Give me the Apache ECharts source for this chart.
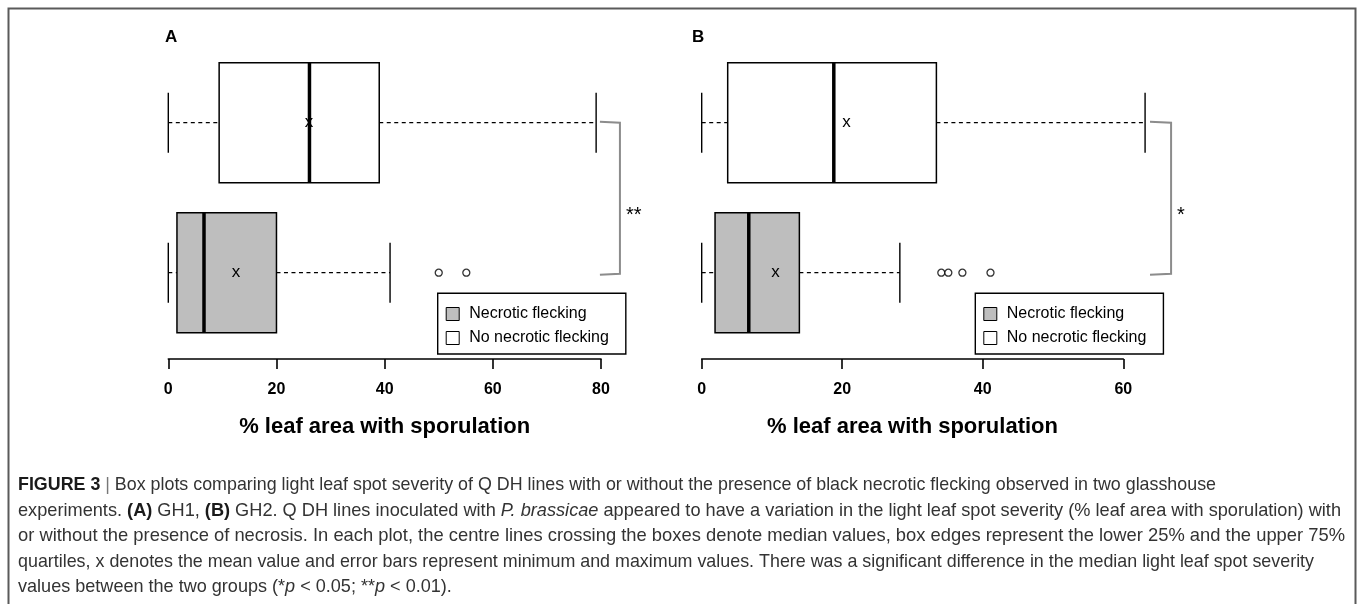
<!DOCTYPE html>
<html><head><meta charset="utf-8">
<script src="https://cdn.jsdelivr.net/npm/echarts@6.0.0/dist/echarts.min.js"></script>
<style>html,body{margin:0;padding:0;background:#fff}#c{width:1357px;height:604px}</style>
</head><body><div id="c"></div>
<script>
// ---- data ----
const groups = ['Necrotic flecking', 'No necrotic flecking'];
// [min, Q1, median, Q3, max, mean]
const gh1Necrotic = [0, 1.6, 6.6, 20.0, 41.0, 12.5];
const gh1None     = [0, 9.4, 26.1, 39.0, 79.1, 26.0];
const gh1Outliers = [50.0, 55.1];
const gh2Necrotic = [0, 1.9, 6.7, 13.9, 28.2, 10.5];
const gh2None     = [0, 3.7, 18.8, 33.4, 63.1, 20.6];
const gh2Outliers = [34.1, 35.1, 37.1, 41.1];
const ticksA = [0, 20, 40, 60, 80];
const ticksB = [0, 20, 40, 60];
const panelLabels = ['A', 'B'];
const signif = ['**', '*'];
const bracketA = [79.8, 83.5];
const bracketB = [63.8, 66.8];
const axisTitle = '% leaf area with sporulation';
const captionLines = [
  [['b','FIGURE 3'],['g',' | '],['n','Box plots comparing light leaf spot severity of Q DH lines with or without the presence of black necrotic flecking observed in two glasshouse']],
  [['n','experiments. '],['b','(A)'],['n',' GH1, '],['b','(B)'],['n',' GH2. Q DH lines inoculated with '],['i','P. brassicae'],['n',' appeared to have a variation in the light leaf spot severity (% leaf area with sporulation) with']],
  [['n','or without the presence of necrosis. In each plot, the centre lines crossing the boxes denote median values, box edges represent the lower 25% and the upper 75%']],
  [['n','quartiles, x denotes the mean value and error bars represent minimum and maximum values. There was a significant difference in the median light leaf spot severity']],
  [['n','values between the two groups (*'],['i','p'],['n',' < 0.05; **'],['i','p'],['n',' < 0.01).']]
];

const FF = '"Liberation Sans", Arial, Helvetica, sans-serif';
const chart = echarts.init(document.getElementById('c'), null, {renderer: 'canvas'});

function boxRender(fill) {
  return function (params, api) {
    const cat = api.value(0);
    const v = [1, 2, 3, 4, 5, 6].map(i => api.value(i));
    const c = x => api.coord([x, cat]);
    const band = api.size([0, 1])[1];
    const h = band * 0.8;
    const pMin = c(v[0]), pQ1 = c(v[1]), pMed = c(v[2]), pQ3 = c(v[3]), pMax = c(v[4]), pMean = c(v[5]);
    const y = pMed[1];
    const dash = {stroke: '#000', lineWidth: 1.3, lineDash: [4, 3.5]};
    const solid = {stroke: '#000', lineWidth: 1.4};
    return {type: 'group', children: [
      {type: 'line', shape: {x1: pMin[0], y1: y, x2: pQ1[0], y2: y}, style: dash},
      {type: 'line', shape: {x1: pQ3[0], y1: y, x2: pMax[0], y2: y}, style: dash},
      {type: 'line', shape: {x1: pMin[0], y1: y - h / 4, x2: pMin[0], y2: y + h / 4}, style: solid},
      {type: 'line', shape: {x1: pMax[0], y1: y - h / 4, x2: pMax[0], y2: y + h / 4}, style: solid},
      {type: 'rect', shape: {x: pQ1[0], y: y - h / 2, width: pQ3[0] - pQ1[0], height: h}, style: {fill: fill, stroke: '#000', lineWidth: 1.5}},
      {type: 'line', shape: {x1: pMed[0], y1: y - h / 2, x2: pMed[0], y2: y + h / 2}, style: {stroke: '#000', lineWidth: 3.5}},
      {type: 'text', x: pMean[0], y: y, style: {text: 'x', fill: '#000', font: '17px ' + FF, align: 'center', verticalAlign: 'middle'}}
    ]};
  };
}

function bracketRender(label) {
  return function (params, api) {
    const x1 = api.value(0), x2 = api.value(1);
    const t = api.coord([x1, 1]), b = api.coord([x1, 0]), r = api.coord([x2, 1]);
    const mid = (t[1] + b[1]) / 2;
    return {type: 'group', children: [
      {type: 'polyline', shape: {points: [[t[0], t[1] - 1], [r[0], t[1]], [r[0], b[1] + 1], [t[0], b[1] + 2]]},
       style: {stroke: '#8c8c8c', lineWidth: 2, fill: null}},
      {type: 'text', x: r[0] + 6, y: mid + 18, style: {text: label, fill: '#000', font: '20px ' + FF, align: 'left', verticalAlign: 'middle'}}
    ]};
  };
}

function boxSeries(name, vals, fill, idx) {
  return {
    type: 'custom', name: name, xAxisIndex: idx, yAxisIndex: idx,
    renderItem: boxRender(fill), clip: false,
    itemStyle: {color: fill, borderColor: '#000', borderWidth: 1},
    encode: {x: [1, 2, 3, 4, 5, 6], y: 0},
    data: [[groups.indexOf(name)].concat(vals)], z: 2
  };
}

function xAxisDef(idx, max, ticks) {
  return {
    gridIndex: idx, type: 'value', min: 0, max: max, interval: 20, offset: 11.3,
    axisLine: {show: true, onZero: false, lineStyle: {color: '#000', width: 1.6}},
    axisTick: {show: true, length: 10, customValues: ticks, lineStyle: {color: '#000', width: 1.6}},
    axisLabel: {show: true, customValues: ticks, margin: 23, fontSize: 16, fontWeight: 'bold', color: '#000', fontFamily: FF},
    splitLine: {show: false},
    name: axisTitle, nameLocation: 'middle', nameGap: 57,
    nameTextStyle: {fontSize: 22, fontWeight: 'bold', color: '#000', fontFamily: FF}
  };
}

function legendDef(left) {
  return {
    left: left, top: 293.3, orient: 'vertical', data: groups, icon: 'rect',
    itemWidth: 13, itemHeight: 13, itemGap: 8, padding: [12.7, 17, 8, 8],
    borderColor: '#000', borderWidth: 1.4, borderRadius: 0, selectedMode: false,
    backgroundColor: '#fff',
    textStyle: {fontSize: 16, fontFamily: FF, color: '#000', padding: [0, 0, 0, 5]},
    itemStyle: {borderColor: '#000', borderWidth: 1}
  };
}

// caption: measure and fit each full line to its width in the figure
const mctx = document.createElement('canvas').getContext('2d');
const capSize = 19;
const fonts = {
  n: 'normal normal ' + capSize + 'px ' + FF,
  g: 'normal normal ' + capSize + 'px ' + FF,
  b: 'normal bold ' + capSize + 'px ' + FF,
  i: 'italic normal ' + capSize + 'px ' + FF
};
function lineWidth(line) {
  let w = 0;
  line.forEach(s => { mctx.font = fonts[s[0]]; w += mctx.measureText(s[1]).width; });
  return w;
}
const capLeft = 18;
const capRight = [1216, 1341, 1345, 1314];
const capY = [485, 510.5, 536, 561.5, 587];
const capScales = capRight.map((r, k) => (r - capLeft) / lineWidth(captionLines[k]));
const meanScale = capScales.reduce((a, b) => a + b, 0) / capScales.length;
capScales.push(meanScale);
const richStyles = {
  n: {fontSize: capSize, fontFamily: FF, fill: '#333'},
  g: {fontSize: capSize, fontFamily: FF, fill: '#777'},
  b: {fontSize: capSize, fontFamily: FF, fontWeight: 'bold', fill: '#1a1a1a'},
  i: {fontSize: capSize, fontFamily: FF, fontStyle: 'italic', fill: '#333'}
};
const captionGraphics = captionLines.map((line, k) => ({
  type: 'text', x: capLeft, y: capY[k], scaleX: capScales[k], z: 10,
  style: {
    text: line.map(s => '{' + s[0] + '|' + s[1] + '}').join(''),
    rich: richStyles, align: 'left', verticalAlign: 'middle', fontSize: capSize, fontFamily: FF
  }
}));

const option = {
  animation: false,
  backgroundColor: '#fff',
  grid: [
    {left: 168.3, top: 47.7, width: 432.7, height: 300, containLabel: false, outerBoundsMode: 'none'},
    {left: 701.7, top: 47.7, width: 421.6, height: 300, containLabel: false, outerBoundsMode: 'none'}
  ],
  xAxis: [xAxisDef(0, 80, ticksA), xAxisDef(1, 60, ticksB)],
  yAxis: [
    {gridIndex: 0, type: 'category', data: groups, show: false},
    {gridIndex: 1, type: 'category', data: groups, show: false}
  ],
  legend: [legendDef(437.7), legendDef(975.3)],
  series: [
    boxSeries(groups[0], gh1Necrotic, '#bebebe', 0),
    boxSeries(groups[1], gh1None, '#ffffff', 0),
    boxSeries(groups[0], gh2Necrotic, '#bebebe', 1),
    boxSeries(groups[1], gh2None, '#ffffff', 1),
    {type: 'scatter', name: 'outA', xAxisIndex: 0, yAxisIndex: 0, symbol: 'circle', symbolSize: 7,
     itemStyle: {color: '#fff', borderColor: '#000', borderWidth: 1.3}, data: gh1Outliers.map(v => [v, 0]), z: 3},
    {type: 'scatter', name: 'outB', xAxisIndex: 1, yAxisIndex: 1, symbol: 'circle', symbolSize: 7,
     itemStyle: {color: '#fff', borderColor: '#000', borderWidth: 1.3}, data: gh2Outliers.map(v => [v, 0]), z: 3},
    {type: 'custom', name: 'brA', xAxisIndex: 0, yAxisIndex: 0, clip: false, renderItem: bracketRender(signif[0]),
     encode: {x: [0, 1]}, data: [bracketA]},
    {type: 'custom', name: 'brB', xAxisIndex: 1, yAxisIndex: 1, clip: false, renderItem: bracketRender(signif[1]),
     encode: {x: [0, 1]}, data: [bracketB]}
  ],
  graphic: [
    {type: 'rect', shape: {x: 8.5, y: 8.5, width: 1347, height: 700}, style: {fill: null, stroke: '#5a5a5a', lineWidth: 2}, silent: true},
    {type: 'text', x: 165, y: 37.7, style: {text: panelLabels[0], font: 'bold 17px ' + FF, fill: '#000', align: 'left', verticalAlign: 'middle'}},
    {type: 'text', x: 692, y: 37.7, style: {text: panelLabels[1], font: 'bold 17px ' + FF, fill: '#000', align: 'left', verticalAlign: 'middle'}}
  ].concat(captionGraphics)
};
chart.setOption(option);
</script>
</body></html>
